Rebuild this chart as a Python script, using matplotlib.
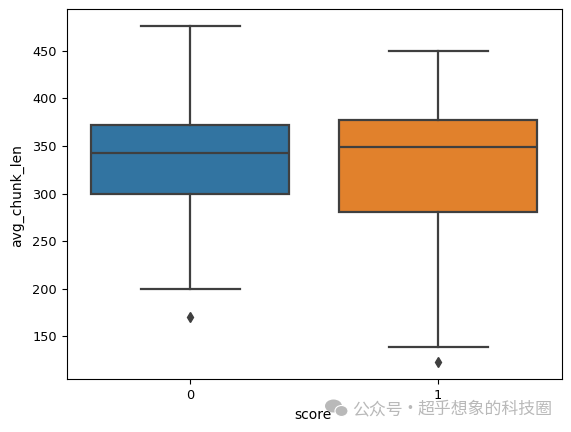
"""
Boxplot of avg_chunk_len by score, drawn from read-off box statistics.
"""
import matplotlib
matplotlib.use("Agg")
import matplotlib.pyplot as plt
from matplotlib.patches import Ellipse

scores = ["0", "1"]
q1 = [299, 281]
median = [343, 349]
q3 = [372, 377]
whisker_low = [200, 139]
whisker_high = [476, 450]
outliers = [[170], [123]]
box_colors = ["#3274a1", "#e1812c"]
GRAY = "#3f3f3f"
W, H = 571, 432

fig, ax = plt.subplots(figsize=(5.71, 4.32), dpi=100)

stats = []
for i in range(len(scores)):
    stats.append({"label": scores[i], "q1": q1[i], "med": median[i], "q3": q3[i],
                  "whislo": whisker_low[i], "whishi": whisker_high[i], "fliers": outliers[i]})

line = dict(color=GRAY, linewidth=1.6)
flier = dict(marker="d", markerfacecolor=GRAY, markeredgecolor=GRAY, markersize=5)
bp = ax.bxp(stats, positions=[0, 1], widths=0.8, patch_artist=True,
            boxprops=line, medianprops=line, whiskerprops=line, capprops=line,
            flierprops=flier)
for box, c in zip(bp["boxes"], box_colors):
    box.set_facecolor(c)

ax.set_xlim(-0.5, 1.5)
ax.set_ylim(105, 494)
ax.set_xticks([0, 1], scores)
ax.set_yticks([150, 200, 250, 300, 350, 400, 450])
ax.tick_params(labelsize=9.3)
ax.set_ylabel("avg_chunk_len", fontsize=10)
ax.set_xlabel("score", fontsize=10)

fig.subplots_adjust(left=66.5 / W, right=562 / W, top=1 - 9 / H, bottom=1 - 379 / H)
ax.yaxis.set_label_coords((17 - 66.5) / 495.5, 0.495)
ax.xaxis.set_label_coords(0.498, -(415 - 379) / 370)
ax.xaxis.label.set_verticalalignment("center")
ax.yaxis.label.set_verticalalignment("center")

# watermark: wechat icon and account name
WM = "#b9b9b9"
CJK = ["Noto Sans CJK SC", "DejaVu Sans"]
fig.add_artist(Ellipse((333.5 / W, 1 - 406 / H), 17 / W, 13 / H, facecolor=WM, edgecolor="none"))
fig.add_artist(Ellipse((341.5 / W, 1 - 411 / H), 13 / W, 11 / H, facecolor=WM, edgecolor="white", linewidth=0.8))
fig.text(352 / W, 1 - 409 / H, "公众号", fontsize=12.2, color=WM, va="center", ha="left", family=CJK)
fig.text(410 / W, 1 - 409 / H, "·", fontsize=12.2, color=WM, va="center", ha="center", family=CJK)
fig.text(418 / W, 1 - 409 / H, "超乎想象的科技圈", fontsize=12.2, color=WM, va="center", ha="left", family=CJK)

fig.savefig("out.png", dpi=100)
